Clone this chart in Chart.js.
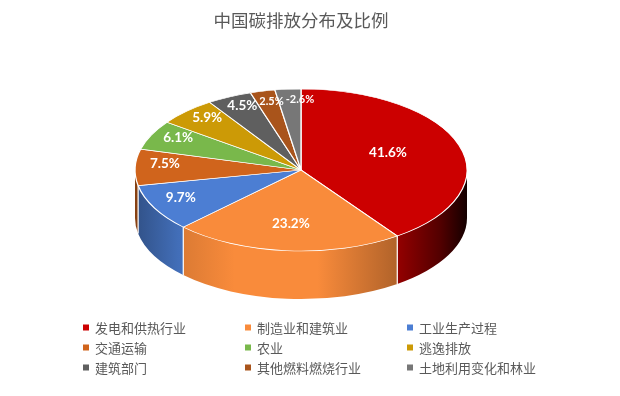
<!DOCTYPE html>
<html>
<head>
<meta charset="utf-8">
<script src="https://cdn.jsdelivr.net/npm/chart.js@4/dist/chart.umd.min.js"></script>
<style>
  html, body { margin: 0; padding: 0; background: #ffffff; }
  #wrap { width: 620px; height: 396px; position: relative; }
</style>
</head>
<body>
<div id="wrap"><canvas id="c"></canvas></div>
<script>
// ---- data ----
const categories = ['发电和供热行业', '制造业和建筑业', '工业生产过程', '交通运输', '农业', '逃逸排放', '建筑部门', '其他燃料燃烧行业', '土地利用变化和林业'];
const shares = [41.6, 23.2, 9.7, 7.5, 6.1, 5.9, 4.5, 2.5, -2.6];
const sliceColors = ['#CC0000', '#F98B3B', '#4C7ED3', '#D0641C', '#79B84B', '#CC9A06', '#5F5F5F', '#A9541B', '#777777'];
const chartTitle = '中国碳排放分布及比例';

// ---- layout of the tilted disc (screen pixels) ----
const DISC = { cx: 301, cy: 170, rx: 166, ry: 81, depth: 48 };
// horizontal lighting across the side wall: [position 0..1, brightness]
const SIDE_LIGHT = [[0, 0.64], [0.13, 0.87], [0.3, 1], [0.55, 1], [0.8, 0.7], [0.92, 0.4], [1, 0.1]];

function shade(hex, k) {
  const n = parseInt(hex.slice(1), 16);
  const r = Math.round(((n >> 16) & 255) * k);
  const g = Math.round(((n >> 8) & 255) * k);
  const b = Math.round((n & 255) * k);
  return `rgb(${r},${g},${b})`;
}

// part of [s,e] that lies on the near half of the disc (angles 0..PI, repeated every 2PI)
function frontParts(s, e) {
  const out = [];
  for (let k = -2; k <= 2; k++) {
    const a = Math.max(s, k * 2 * Math.PI);
    const b = Math.min(e, k * 2 * Math.PI + Math.PI);
    if (b > a) out.push([a, b]);
  }
  return out;
}

function discPoint(t, f, dy) {
  return [DISC.cx + DISC.rx * f * Math.cos(t), DISC.cy + DISC.ry * f * Math.sin(t) + (dy || 0)];
}

const tiltPlugin = {
  id: 'tilt',
  beforeDatasetsDraw(chart) {
    const ctx = chart.ctx;
    const arcs = chart.getDatasetMeta(0).data;
    const colors = chart.data.datasets[0].backgroundColor;
    // side walls
    arcs.forEach((arc, i) => {
      frontParts(arc.startAngle, arc.endAngle).forEach(([a, b]) => {
        const grad = ctx.createLinearGradient(DISC.cx - DISC.rx, 0, DISC.cx + DISC.rx, 0);
        SIDE_LIGHT.forEach(([p, k]) => grad.addColorStop(p, shade(colors[i], k)));
        const [xb, yb] = discPoint(b, 1);
        ctx.beginPath();
        ctx.ellipse(DISC.cx, DISC.cy, DISC.rx, DISC.ry, 0, a, b, false);
        ctx.lineTo(xb, yb + DISC.depth);
        ctx.ellipse(DISC.cx, DISC.cy + DISC.depth, DISC.rx, DISC.ry, 0, b, a, true);
        ctx.closePath();
        ctx.fillStyle = grad;
        ctx.fill();
      });
    });
    // white seams where slices meet on the side wall
    ctx.save();
    ctx.strokeStyle = '#ffffff';
    ctx.lineWidth = 1.2;
    arcs.forEach(arc => {
      const t = arc.endAngle;
      if (Math.sin(t) > 0.02) {
        const [x, y] = discPoint(t, 1);
        ctx.beginPath();
        ctx.moveTo(x, y);
        ctx.lineTo(x, y + DISC.depth);
        ctx.stroke();
      }
    });
    ctx.restore();
    // squash the flat pie onto the top face
    const a0 = arcs[0];
    const r = a0.outerRadius;
    ctx.save();
    ctx.translate(DISC.cx, DISC.cy);
    ctx.scale(DISC.rx / r, DISC.ry / r);
    ctx.translate(-a0.x, -a0.y);
  },
  afterDatasetsDraw(chart) {
    const ctx = chart.ctx;
    ctx.restore();
    const arcs = chart.getDatasetMeta(0).data;
    const values = chart.data.datasets[0].data;
    const total = values.reduce((s, v) => s + Math.abs(v), 0);
    const placed = [];
    ctx.save();
    ctx.fillStyle = '#ffffff';
    ctx.textAlign = 'center';
    ctx.textBaseline = 'middle';
    arcs.forEach((arc, i) => {
      const share = Math.abs(values[i]) / total;
      const f = share > 0.3 ? 0.55 : share > 0.15 ? 0.72 : 0.82;
      const mid = (arc.startAngle + arc.endAngle) / 2;
      let [x, y] = discPoint(mid, f, -4);
      ctx.font = share < 0.03 ? 'bold 11px Lato' : 'bold 13.5px Lato';
      const text = values[i].toFixed(1) + '%';
      const w = ctx.measureText(text).width;
      const h = share < 0.03 ? 10 : 12;
      // slide a crowded label along to the right until it clears the previous ones
      placed.forEach(p => {
        if (Math.abs(y - p.y) < (h + p.h) / 2 && x - w / 2 < p.x + p.w / 2 + 2 && x + w / 2 > p.x - p.w / 2) {
          x = p.x + p.w / 2 + 2 + w / 2;
        }
      });
      placed.push({ x, y, w, h });
      ctx.fillText(text, x, y);
    });
    ctx.restore();
  }
};

const legendGridPlugin = {
  id: 'legendGrid',
  afterDraw(chart) {
    const ctx = chart.ctx;
    const cols = [83, 245, 407];
    const rows = [328.5, 348.5, 368.5];
    const colors = chart.data.datasets[0].backgroundColor;
    ctx.save();
    ctx.font = "13px 'Noto Sans CJK SC'";
    ctx.textBaseline = 'middle';
    ctx.textAlign = 'left';
    chart.data.labels.forEach((label, i) => {
      const x = cols[i % 3];
      const y = rows[Math.floor(i / 3)];
      ctx.fillStyle = colors[i];
      ctx.fillRect(x, y - 4, 6, 6);
      ctx.fillStyle = '#595959';
      ctx.fillText(label, x + 12, y);
    });
    ctx.restore();
  }
};

new Chart(document.getElementById('c'), {
  type: 'pie',
  data: {
    labels: categories,
    datasets: [{
      data: shares,
      backgroundColor: sliceColors,
      borderColor: '#ffffff',
      borderWidth: 1.3,
      clip: false
    }]
  },
  options: {
    responsive: true,
    maintainAspectRatio: false,
    devicePixelRatio: 1,
    animation: false,
    events: [],
    layout: { padding: { left: 135, right: 153, top: 0, bottom: 0 } },
    plugins: {
      legend: { display: false },
      tooltip: { enabled: false },
      title: {
        display: true,
        text: chartTitle,
        color: '#595959',
        font: { family: "'Noto Sans CJK SC'", size: 17.5, weight: 'normal' },
        padding: { top: 10, bottom: 10 }
      }
    }
  },
  plugins: [tiltPlugin, legendGridPlugin]
});
</script>
</body>
</html>
